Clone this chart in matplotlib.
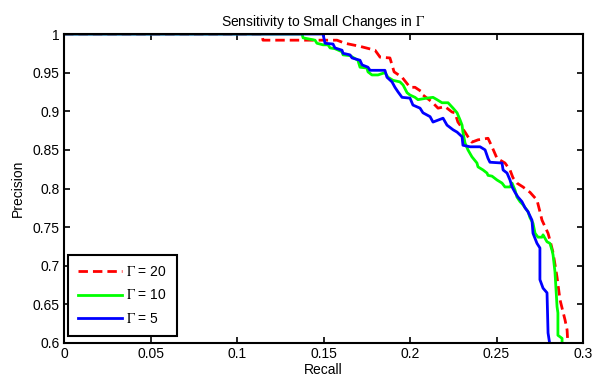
import matplotlib
matplotlib.use('Agg')
import matplotlib.pyplot as plt

plt.rcParams['font.family'] = ['Liberation Sans', 'DejaVu Sans']
plt.rcParams['mathtext.fontset'] = 'stix'

# (recall, precision)
recall_g20 = [0, 0.1145, 0.1150, 0.1578, 0.1624, 0.1711, 0.1798, 0.1827, 0.1884, 0.1908,
              0.1954, 0.2000, 0.2029, 0.2069, 0.2075, 0.2127, 0.2162, 0.2202, 0.2243, 0.2260,
              0.2277, 0.2318, 0.2335, 0.2358, 0.2393, 0.2451, 0.2474, 0.2503, 0.2549, 0.2578,
              0.2595, 0.2618, 0.2653, 0.2694, 0.2734, 0.2751, 0.2763, 0.2798, 0.2809, 0.2827,
              0.2850, 0.2867, 0.2896, 0.2908, 0.2913]
prec_g20 = [1.0, 1.0, 0.992, 0.992, 0.988, 0.984, 0.979, 0.970, 0.969, 0.951,
            0.944, 0.931, 0.931, 0.925, 0.921, 0.912, 0.904, 0.906, 0.899, 0.898,
            0.886, 0.873, 0.867, 0.860, 0.863, 0.865, 0.854, 0.839, 0.833, 0.824,
            0.814, 0.807, 0.802, 0.795, 0.785, 0.770, 0.759, 0.742, 0.733, 0.717,
            0.685, 0.656, 0.630, 0.617, 0.597]

recall_g10 = [0, 0.1376, 0.1382, 0.1451, 0.1462, 0.1497, 0.1526, 0.1538, 0.1566, 0.1607,
              0.1613, 0.1653, 0.1699, 0.1711, 0.1751, 0.1757, 0.1780, 0.1815, 0.1855, 0.1873,
              0.1902, 0.1942, 0.1960, 0.1983, 0.2000, 0.2029, 0.2046, 0.2098, 0.2133, 0.2156,
              0.2185, 0.2220, 0.2249, 0.2272, 0.2289, 0.2301, 0.2306, 0.2318, 0.2335, 0.2358,
              0.2387, 0.2393, 0.2422, 0.2445, 0.2451, 0.2474, 0.2503, 0.2532, 0.2549, 0.2578,
              0.2590, 0.2607, 0.2618, 0.2636, 0.2653, 0.2682, 0.2694, 0.2711, 0.2723, 0.2740,
              0.2763, 0.2769, 0.2792, 0.2809, 0.2821, 0.2827, 0.2838, 0.2850, 0.2855, 0.2855,
              0.2879, 0.2879]
prec_g10 = [1.0, 1.0, 0.995, 0.992, 0.988, 0.986, 0.986, 0.982, 0.981, 0.977,
            0.973, 0.972, 0.966, 0.957, 0.956, 0.951, 0.947, 0.947, 0.950, 0.944,
            0.940, 0.938, 0.934, 0.924, 0.921, 0.918, 0.915, 0.917, 0.918, 0.915,
            0.911, 0.911, 0.904, 0.898, 0.889, 0.882, 0.873, 0.859, 0.850, 0.841,
            0.833, 0.828, 0.824, 0.820, 0.817, 0.816, 0.811, 0.807, 0.802, 0.802,
            0.807, 0.798, 0.789, 0.783, 0.779, 0.770, 0.762, 0.755, 0.742, 0.737,
            0.737, 0.740, 0.731, 0.729, 0.720, 0.714, 0.692, 0.647, 0.639, 0.610,
            0.606, 0.597]

recall_g5 = [0, 0.1497, 0.1509, 0.1555, 0.1566, 0.1607, 0.1613, 0.1653, 0.1665, 0.1711,
             0.1723, 0.1757, 0.1769, 0.1855, 0.1867, 0.1896, 0.1913, 0.1931, 0.1954, 0.2000,
             0.2017, 0.2058, 0.2075, 0.2116, 0.2133, 0.2191, 0.2214, 0.2249, 0.2272, 0.2301,
             0.2306, 0.2347, 0.2405, 0.2434, 0.2451, 0.2462, 0.2532, 0.2538, 0.2561, 0.2578,
             0.2590, 0.2607, 0.2624, 0.2647, 0.2665, 0.2682, 0.2705, 0.2711, 0.2734, 0.2751,
             0.2751, 0.2769, 0.2792, 0.2798, 0.2809]
prec_g5 = [1.0, 1.0, 0.988, 0.987, 0.982, 0.979, 0.975, 0.973, 0.969, 0.966,
           0.960, 0.957, 0.953, 0.953, 0.944, 0.938, 0.931, 0.925, 0.918, 0.917,
           0.908, 0.904, 0.898, 0.893, 0.886, 0.891, 0.882, 0.876, 0.873, 0.867,
           0.856, 0.854, 0.854, 0.850, 0.839, 0.834, 0.833, 0.824, 0.820, 0.811,
           0.802, 0.795, 0.789, 0.783, 0.775, 0.770, 0.759, 0.742, 0.729, 0.723,
           0.682, 0.671, 0.665, 0.613, 0.597]

labels = [r'$\Gamma$ = 20', r'$\Gamma$ = 10', r'$\Gamma$ = 5']

fig = plt.figure(figsize=(5.95, 3.81), dpi=100)
ax = fig.add_axes([64 / 595, 1 - 343 / 381, (583 - 64) / 595, (343 - 34) / 381])

ax.plot(recall_g20, prec_g20, color='#ff0000', lw=2, dashes=(3.4, 1.8), label=labels[0])
ax.plot(recall_g10, prec_g10, color='#00ff00', lw=2, label=labels[1])
ax.plot(recall_g5, prec_g5, color='#0000ff', lw=2, label=labels[2])

ax.set_xlim(0, 0.3)
ax.set_ylim(0.6, 1)
ax.set_xticks([0, 0.05, 0.1, 0.15, 0.2, 0.25, 0.3])
ax.set_xticklabels(['0', '0.05', '0.1', '0.15', '0.2', '0.25', '0.3'])
ax.set_yticks([0.6, 0.65, 0.7, 0.75, 0.8, 0.85, 0.9, 0.95, 1])
ax.set_yticklabels(['0.6', '0.65', '0.7', '0.75', '0.8', '0.85', '0.9', '0.95', '1'])
ax.tick_params(direction='in', length=4, width=1.2, top=True, right=True, labelsize=10, pad=3)
for s in ax.spines.values():
    s.set_linewidth(1.5)

ax.set_xlabel('Recall', fontsize=10, labelpad=1)
ax.set_ylabel('Precision', fontsize=10, labelpad=6)
ax.set_title(r'Sensitivity to Small Changes in $\Gamma$', fontsize=10, pad=6)

leg = ax.legend(loc='lower left', bbox_to_anchor=(0.008, 0.023), borderaxespad=0,
                fontsize=10, frameon=True, fancybox=False, edgecolor='black', framealpha=1,
                handlelength=3.2, labelspacing=0.7, borderpad=0.7, handletextpad=0.3)
leg.get_frame().set_linewidth(1.5)

fig.savefig('out.png', dpi=100)
